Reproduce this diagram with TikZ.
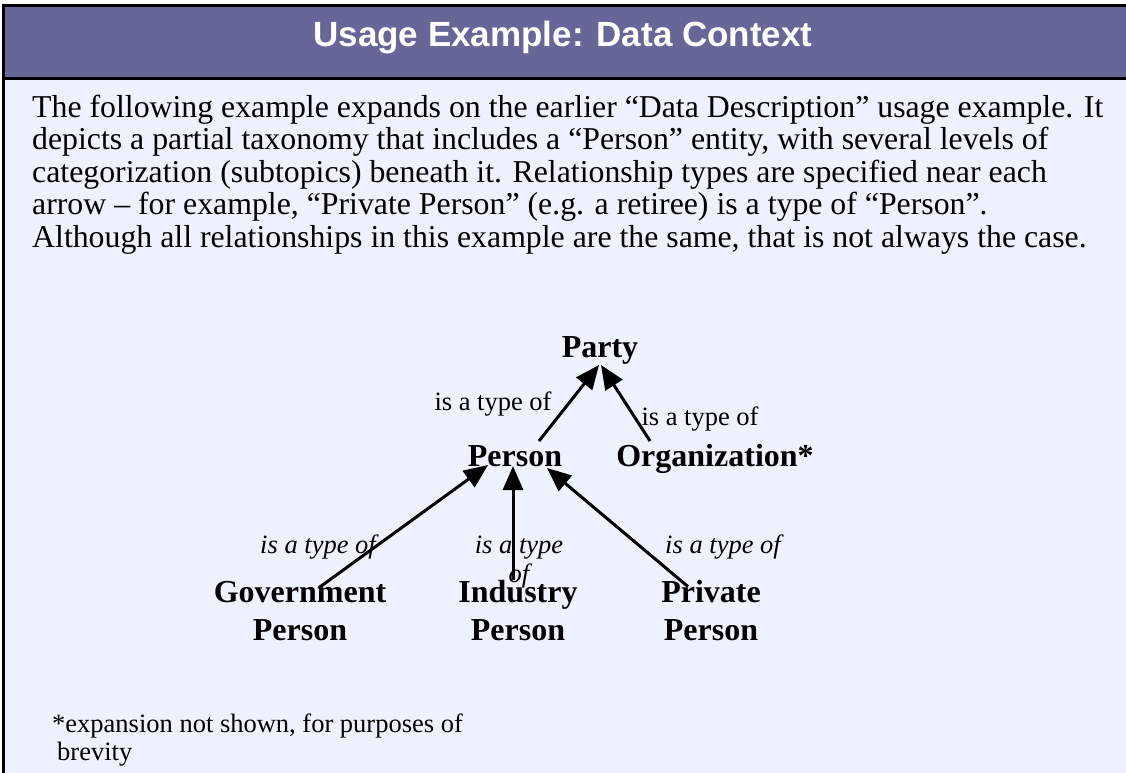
\documentclass[tikz,border=0pt]{standalone}
\usepackage{fontspec}
\setmainfont{Liberation Serif}
\newfontfamily\titlefont{Liberation Sans}
\usetikzlibrary{arrows.meta}

\definecolor{barpurple}{RGB}{102,102,153}
\definecolor{panelblue}{RGB}{238,242,255}

\tikzset{
  entity/.style={font=\fontsize{32}{38}\selectfont\bfseries, align=center, inner sep=0pt},
  rel/.style={font=\fontsize{26.5}{29}\selectfont, align=center, inner sep=0pt},
  relit/.style={rel, font=\fontsize{26.5}{29}\selectfont\itshape},
  isa/.style={line width=3pt, -{Triangle[length=24pt,width=20pt]}}
}

\begin{document}
\begin{tikzpicture}[x=1pt,y=-1pt]
  \fill[white] (0,0) rectangle (1126,772);
  \useasboundingbox (0,0) rectangle (1126,772);

  % Title bar
  \filldraw[
    line width=3pt,
    draw=black,
    fill=barpurple
  ] (3.5,5.5) rectangle (1140,78);
  \node[anchor=base, text=white, font={\fontsize{35}{40}\titlefont\bfseries}]
    (title) at (563,46) {Usage Example: Data Context};

  % Body panel
  \filldraw[
    line width=3pt,
    draw=black,
    fill=panelblue
  ] (3.5,78) rectangle (1140,800);
  % multi-line nodes sit on the baseline of their last line
  \node[anchor=base west, align=left, inner sep=0pt,
    font=\fontsize{31.8}{32.5}\selectfont] (intro) at (32,247)
    {The following example expands on the earlier “Data Description” usage example. It\\
     depicts a partial taxonomy that includes a “Person” entity, with several levels of\\
     categorization (subtopics) beneath it. Relationship types are specified near each\\
     arrow – for example, “Private Person” (e.g. a retiree) is a type of “Person”.\\
     Although all relationships in this example are the same, that is not always the case.};

  % Taxonomy
  \node[entity, anchor=base] (party) at (600,357) {Party};
  \node[entity, anchor=base] (person) at (515,466) {Person};
  \node[entity, anchor=base] (org) at (715,466) {Organization*};
  \node[entity, anchor=base] (gov) at (300,640) {Government\\Person};
  \node[entity, anchor=base] (ind) at (518,640) {Industry\\Person};
  \node[entity, anchor=base] (prv) at (711,640) {Private\\Person};

  % Relationship labels
  \node[rel, anchor=base] (lblperson) at (493,410) {is a type of};
  \node[rel, anchor=base] (lblorg) at (700,425) {is a type of};
  \node[relit, anchor=base] (lblgov) at (318,553) {is a type of};
  \node[relit, anchor=base] (lblind) at (519,582) {is a type\\of};
  \node[relit, anchor=base] (lblprv) at (723,553) {is a type of};

  % Arrows
  \draw[isa] ([xshift=24pt,yshift=25pt]person.base) -- ([xshift=-1pt,yshift=-8pt]party.base);
  \draw[isa] ([xshift=-65pt,yshift=25pt]org.base) -- ([xshift=1pt,yshift=-8pt]party.base);
  \draw[isa] ([xshift=19pt,yshift=-7pt]gov.north) -- ([xshift=-27pt,yshift=1pt]person.base);
  \draw[isa] ([xshift=-5pt]ind.north) -- ([xshift=-2pt]person.base);
  \draw[isa] ([xshift=-23pt,yshift=-7pt]prv.north) -- ([xshift=32pt,yshift=-2pt]person.base);

  % Footnote
  \node[anchor=base west, align=left, inner sep=0pt,
    font=\fontsize{26.5}{28}\selectfont] (note) at (52,760)
    {*expansion not shown, for purposes of\\\hspace*{5pt}brevity};
\end{tikzpicture}
\end{document}
